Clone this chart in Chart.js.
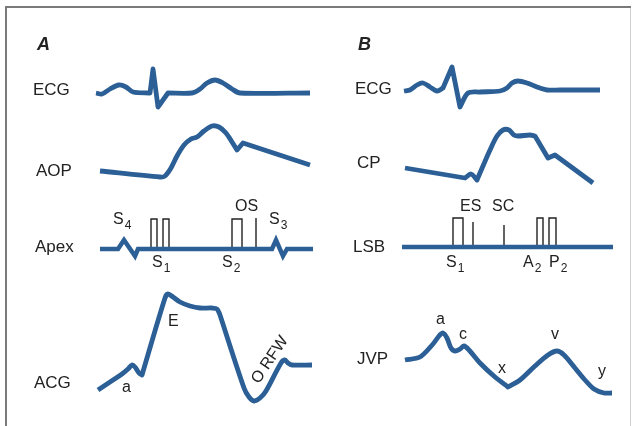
<!DOCTYPE html>
<html>
<head>
<meta charset="utf-8">
<script src="https://cdn.jsdelivr.net/npm/chart.js@4/dist/chart.umd.min.js"></script>
<style>
  html, body { margin: 0; padding: 0; background: #fff; }
  canvas { display: block; }
</style>
</head>
<body>
<canvas id="traces" width="634" height="426"></canvas>
<script>
// Traces, as [time, level] pairs on the figure's own grid (level grows downward).
// A repeated pair marks a sharp corner in the smoothed line.
const ecgA = [[96,93],[102,94],[110,89],[119,85],[126,87],[133,92],[150,93],[150,93],[153,69],[153,69],[158,107],[158,107],[168,93],[168,93],[192,93],[200,89],[207,83],[215,80],[223,83],[232,89],[240,93],[310,93]];
const aopA = [[100,171],[160,177],[165,176],[171,168],[177,156],[184,145],[191,139],[197,137],[204,131],[212,126],[219,127],[226,133],[232,142],[237,150],[237,150],[243,143],[243,143],[310,165]];
const apexA = [[100,249],[118,249],[124,240],[135,256],[138,249],[272,249],[276,240],[283,256],[287,249],[313,249]];
const acgA = [[98,390],[110,382],[122,374],[128,369],[132,365],[135,367],[139,373],[142,375],[142,375],[165,298],[168,294],[173,297],[180,302],[190,306],[200,308],[212,308],[217,309],[220,315],[220,315],[244,388],[249,397],[254,401],[260,398],[266,391],[281,363],[285,360],[288,363],[292,365],[312,365]];

const ecgB = [[404,91],[410,90],[417,85],[423,83],[430,87],[437,91],[443,88],[443,88],[452,67],[452,67],[460,107],[460,107],[468,93],[480,92],[500,91],[507,88],[512,83],[518,81],[527,83],[537,87],[547,90],[560,90],[600,90]];
const cpB = [[405,168],[465,178],[465,178],[471,174],[477,180],[477,180],[490,150],[497,136],[503,130],[509,130],[514,135],[518,136],[530,135],[535,136],[535,136],[548,158],[548,158],[555,155],[555,155],[593,183]];
const lsbB = [[402,247],[613,247]];
const jvpB = [[405,360],[420,357],[433,344],[439,336],[443,333],[447,338],[451,348],[455,351],[460,349],[464,346],[469,350],[480,363],[495,377],[508,387],[508,387],[520,380],[535,366],[548,355],[557,351],[564,355],[575,368],[585,380],[594,389],[604,393],[612,393]];

// Heart sound boxes [left, right, top, base] and single ticks [at, top, base]
const soundBoxes = [[151,157,219,249],[163,169,219,249],[232,242,219,249],[453,463,218,247],[537,543,218,247],[549,556,218,247]];
const soundTicks = [[256,218,249],[473,222,247],[504,225,247]];

// Text: [text, subscript, time, level, size, bold-italic]
const rowLabels = [
  ["A", "", 37, 45, 18, true], ["B", "", 358, 45, 18, true],
  ["ECG", "", 33, 90, 17], ["AOP", "", 36, 171, 17], ["Apex", "", 35, 247, 17], ["ACG", "", 34, 383, 17],
  ["ECG", "", 355, 89, 17], ["CP", "", 357, 163, 17], ["LSB", "", 353, 247, 17], ["JVP", "", 357, 359, 17]
];
const markLabels = [
  ["S", "4", 113, 220, 16], ["S", "1", 152, 263, 16], ["S", "2", 222, 263, 16], ["OS", "", 235, 207, 16], ["S", "3", 269, 220, 16],
  ["E", "", 168, 322, 16], ["a", "", 122, 388, 16],
  ["ES", "", 460, 207, 16], ["SC", "", 492, 207, 16], ["S", "1", 446, 263, 16], ["A", "2", 523, 263, 16], ["P", "2", 549, 263, 16],
  ["a", "", 436, 320, 16], ["c", "", 459, 335, 16], ["x", "", 498, 369, 16], ["v", "", 551, 335, 16], ["y", "", 598, 372, 16]
];
// rotated label on the ACG rapid filling wave
const rotatedLabel = ["O RFW", 255, 382, -56];

const blue = "#2b5f95";
const ink = "#222";

const toXY = (pts) => pts.map((p) => ({ x: p[0], y: p[1] }));

const datasets = [];
[ecgA, aopA, acgA, ecgB, cpB, jvpB].forEach((t) => {
  datasets.push({ data: toXY(t), borderColor: blue, borderWidth: 4.8, tension: 0.3, pointRadius: 0, showLine: true,
    borderCapStyle: "butt", borderJoinStyle: "round" });
});
[apexA, lsbB].forEach((t) => {
  datasets.push({ data: toXY(t), borderColor: blue, borderWidth: 4.5, tension: 0, pointRadius: 0, showLine: true,
    borderJoinStyle: "miter" });
});
soundBoxes.forEach((b) => {
  datasets.push({ data: toXY([[b[0],b[3]],[b[0],b[2]],[b[1],b[2]],[b[1],b[3]]]), borderColor: ink, borderWidth: 1.4,
    tension: 0, pointRadius: 0, showLine: true });
});
soundTicks.forEach((s) => {
  datasets.push({ data: toXY([[s[0],s[1]],[s[0],s[2]]]), borderColor: ink, borderWidth: 1.4,
    tension: 0, pointRadius: 0, showLine: true });
});

//Frame around the figure
const framePlugin = {
  id: "frame",
  beforeDraw(chart) {
    const c = chart.ctx;
    c.save();
    c.fillStyle = "#fff";
    c.fillRect(0, 0, chart.width, chart.height);
    c.strokeStyle = "#d0d0d0";
    c.lineWidth = 1;
    c.beginPath(); c.moveTo(630.5, 7); c.lineTo(630.5, 426); c.stroke();
    c.strokeStyle = "#7a7a7a";
    c.lineWidth = 2;
    c.beginPath(); c.moveTo(6, 426); c.lineTo(6, 7); c.lineTo(631, 7); c.stroke();
    c.restore();
  }
};

//Labels drawn at data positions through the scales
const textPlugin = {
  id: "texts",
  afterDatasetsDraw(chart) {
    const c = chart.ctx;
    const xs = chart.scales.x, ys = chart.scales.y;
    c.save();
    c.fillStyle = ink;
    c.textBaseline = "middle";
    c.textAlign = "left";
    rowLabels.concat(markLabels).forEach((l) => {
      const px = xs.getPixelForValue(l[2]), py = ys.getPixelForValue(l[3]);
      c.font = (l[5] ? "italic bold " : "") + l[4] + "px 'Liberation Sans', Arial, sans-serif";
      c.fillText(l[0], px, py);
      if (l[1]) {
        const w = c.measureText(l[0]).width;
        c.font = Math.round(l[4] * 0.75) + "px 'Liberation Sans', Arial, sans-serif";
        c.fillText(l[1], px + w + 1, py + 6);
      }
    });
    const r = rotatedLabel;
    c.translate(xs.getPixelForValue(r[1]), ys.getPixelForValue(r[2]));
    c.rotate(r[3] * Math.PI / 180);
    c.font = "16px 'Liberation Sans', Arial, sans-serif";
    c.fillText(r[0], 0, 0);
    c.restore();
  }
};

new Chart(document.getElementById("traces"), {
  type: "scatter",
  data: { datasets: datasets },
  plugins: [framePlugin, textPlugin],
  options: {
    responsive: false,
    animation: false,
    layout: { padding: 0 },
    plugins: { legend: { display: false }, tooltip: { enabled: false } },
    scales: {
      x: { type: "linear", min: 0, max: 634, display: false },
      y: { type: "linear", min: 0, max: 426, reverse: true, display: false }
    }
  }
});
</script>
</body>
</html>
